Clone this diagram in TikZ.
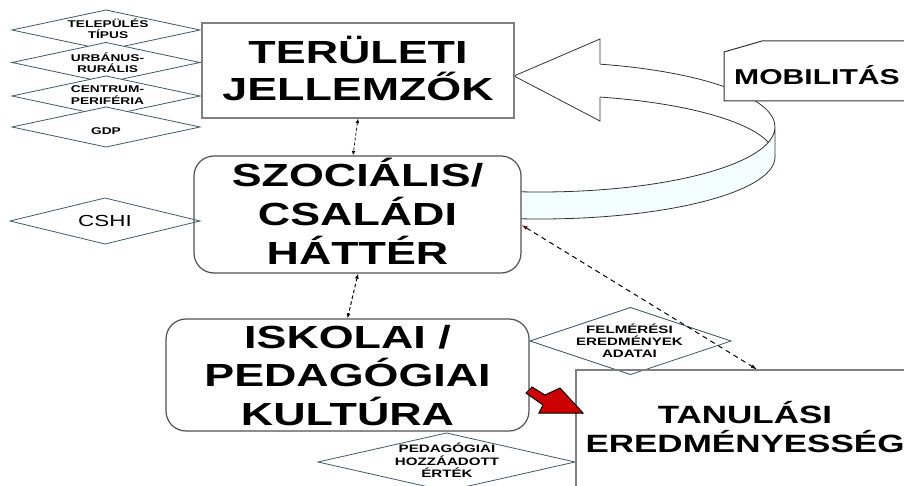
\documentclass[tikz,border=0pt]{standalone}
\usepackage{fontspec}
\newfontfamily\hf{Liberation Sans}[FakeStretch=1.4]
\usetikzlibrary{arrows.meta}
\definecolor{dline}{HTML}{3D5A66}
\definecolor{boxgray}{HTML}{808080}
\definecolor{rbox}{HTML}{505050}
\definecolor{ribline}{HTML}{333333}
\definecolor{ribfill}{HTML}{F4FEFF}
\definecolor{arrred}{HTML}{CC0000}
\definecolor{darkred}{HTML}{6A0010}
\newcommand{\dmd}[5]{%
  \path[#5] ({#1-#3/2},#2) -- (#1,{#2-#4/2}) -- ({#1+#3/2},#2) -- (#1,{#2+#4/2}) -- cycle;}
\begin{document}
\begin{tikzpicture}[x=1pt,y=-1pt,
  dshape/.style={draw=dline,line width=0.8pt,fill=white},
  dopen/.style={draw=dline,line width=0.8pt},
  rib/.style={draw=ribline,line width=0.8pt},
  stext/.style={inner sep=0pt,align=center,font=\hf\bfseries\fontsize{9.8pt}{11.5pt}\selectfont,text depth=0pt},
  mtext/.style={inner sep=0pt,align=center,font=\hf\bfseries\fontsize{10.8pt}{12.3pt}\selectfont,text height=32.3pt,text depth=0pt},
  bigbox/.style={inner sep=0pt,align=center,font=\hf\bfseries\fontsize{32pt}{38.5pt}\selectfont,text depth=0pt},
  conn1/.style={line width=0.7pt,densely dashed,{Latex[length=4.5pt,width=3.5pt]}-{Latex[length=4.5pt,width=3.5pt]}},
  conn2/.style={line width=1pt,dash pattern=on 3.5pt off 2.5pt,{Latex[length=5pt,width=4pt]}-{Latex[length=5pt,width=4pt]}},
  conn3/.style={line width=1pt,dash pattern=on 5pt off 4pt,{Latex[color=darkred,length=6pt,width=4pt]}-{Latex[length=6pt,width=4pt]}},
]
\useasboundingbox (0,0) rectangle (904,486);
\clip (0,0) rectangle (904,486);

% --- mobility ribbon arrow ---
\path[fill=white] (600,64.15) arc[start angle=-75.21,end angle=0,x radius=235,y radius=65]
   -- (775,157) arc[start angle=0,end angle=-75.21,x radius=235,y radius=62] -- cycle;
\draw[rib] (600,64.15) arc[start angle=-75.21,end angle=0,x radius=235,y radius=65];
\draw[rib] (775,157) arc[start angle=0,end angle=-75.21,x radius=235,y radius=62];
\filldraw[rib,fill=ribfill] (775,127) arc[start angle=0,end angle=110,x radius=235,y radius=65]
   -- (459.63,215.26) arc[start angle=110,end angle=0,x radius=235,y radius=62] -- cycle;
\filldraw[rib,fill=white] (600,64.15) -- (600,39) -- (514,76) -- (600,121) -- (600,97.05);

% --- left diamonds ---
\dmd{106}{30}{188}{40}{dshape}
\node[stext,text height=18.5pt] (d1) at (108,29.4) {TELEPÜLÉS\\TÍPUS};
\dmd{106}{62.5}{188}{40}{dshape}
\node[stext,text height=18.5pt] (d2) at (107.5,63.6) {URBÁNUS-\\RURÁLIS};
\dmd{106}{96}{188}{40}{dshape}
\node[stext,text height=18.5pt] (d3) at (107.5,95) {CENTRUM-\\PERIFÉRIA};
\dmd{106}{127}{188}{40}{dshape}
\node[stext,text height=7pt] (d4) at (106,131.5) {GDP};

% --- side diamonds ---
\dmd{630.5}{341}{201}{67}{dshape}
\node[mtext] (felm) at (629.5,341.5) {FELMÉRÉSI\\EREDMÉNYEK\\ADATAI};
\dmd{446.5}{462}{257}{58}{dshape}
\node[mtext] (ped) at (447,461.2) {PEDAGÓGIAI\\HOZZÁADOTT\\ÉRTÉK};

% --- main boxes ---
\node[bigbox,draw=boxgray,line width=1.2pt,fill=white,minimum width=312pt,minimum height=95pt,
  font=\hf\bfseries\fontsize{32pt}{37pt}\selectfont,text height=60pt] (terul) at (358,70.5) {TERÜLETI\\JELLEMZŐK};
\node[bigbox,draw=rbox,line width=1.2pt,fill=white,rounded corners=20pt,minimum width=327pt,minimum height=117pt,
  font=\hf\bfseries\fontsize{32pt}{39pt}\selectfont,text height=101pt] (szoc) at (357.5,214.5) {SZOCIÁLIS/\\CSALÁDI\\HÁTTÉR};
\node[bigbox,draw=rbox,line width=1.2pt,fill=white,rounded corners=20pt,minimum width=363pt,minimum height=112pt,
  text height=100pt] (isk) at (347.5,375) {ISKOLAI /\\PEDAGÓGIAI\\KULTÚRA};
\node[bigbox,draw=boxgray,line width=1.2pt,minimum width=338pt,minimum height=117pt,
  font=\hf\bfseries\fontsize{25pt}{29pt}\selectfont,text height=47pt] (tan) at (745,428.5) {TANULÁSI\\EREDMÉNYESSÉG};

% --- CSHI diamond ---
\dmd{105}{221}{190}{46}{dopen}
\node[inner sep=0pt,font=\hf\fontsize{16pt}{18pt}\selectfont,text height=11.5pt,text depth=0pt] (cshi) at (105,221) {CSHI};

% --- mobility label ---
\filldraw[draw=ribline,line width=1pt,fill=white] (724,52) -- (762,41) -- (912,41) -- (912,101) -- (724,101) -- cycle;
\node[inner sep=0pt,font=\hf\bfseries\fontsize{21.5pt}{24pt}\selectfont,text height=15.4pt,text depth=0pt] (mob) at (817,76.7) {MOBILITÁS};

% --- connectors ---
\draw[conn1] (terul.south) -- ([xshift=-4.5pt]szoc.north);
\draw[conn2] ([xshift=0.5pt]szoc.south) -- (isk.north);
\draw[conn3] ([yshift=-10.5pt]szoc.east) -- ([xshift=12pt]tan.north);

% --- red block arrow ---
\filldraw[draw=black,line width=1pt,fill=arrred,line join=miter]
  (532,387) -- (545,395) -- (560,388) -- (583,413) -- (539,413) -- (543,405) -- (526,393) -- cycle;
\end{tikzpicture}
\end{document}
